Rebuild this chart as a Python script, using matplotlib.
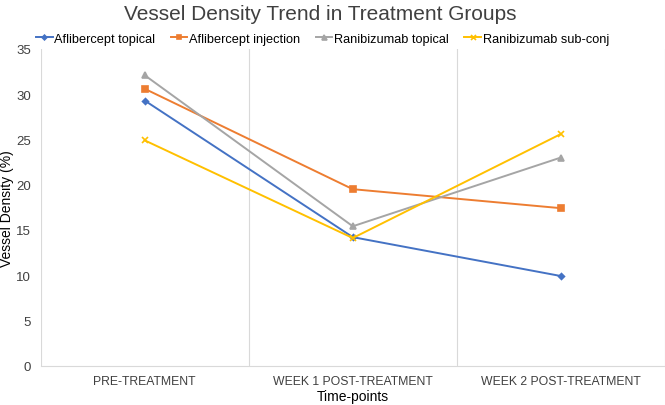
import matplotlib
matplotlib.use("Agg")
from matplotlib import pyplot as plt

plt.rcParams['font.family'] = ['Liberation Sans', 'DejaVu Sans']

timepoints = ["PRE-TREATMENT", "WEEK 1 POST-TREATMENT", "WEEK 2 POST-TREATMENT"]
afl_topical   = [29.3, 14.2, 9.9]
afl_injection = [30.6, 19.5, 17.4]
ran_topical   = [32.1, 15.4, 23.0]
ran_subconj   = [24.9, 14.1, 25.6]

series = [
    ("Aflibercept topical",   afl_topical,   "#4472C4", "D", 3),
    ("Aflibercept injection", afl_injection, "#ED7D31", "s", 4),
    ("Ranibizumab topical",   ran_topical,   "#A5A5A5", "^", 4.5),
    ("Ranibizumab sub-conj",  ran_subconj,   "#FFC000", "x", 4.5),
]

fig = plt.figure(figsize=(6.65, 4.06), dpi=100)
ax = fig.add_axes([0.061, 0.097, 0.939, 0.78])

x = list(range(len(timepoints)))
for name, vals, col, mk, ms in series:
    ax.plot(x, vals, color=col, lw=1.4, marker=mk, markersize=ms,
            markeredgewidth=1.2, label=name)

ax.set_xlim(-0.5, 2.5)
ax.set_ylim(0, 35)
ax.set_yticks(range(0, 36, 5))
ax.set_xticks(x)
ax.set_xticklabels(timepoints, fontsize=8.8, color="#404040")
ax.tick_params(axis='y', labelsize=9.5, colors="#404040", length=0, pad=7)
ax.tick_params(axis='x', length=0, pad=7)

for b in [-0.5, 0.5, 1.5, 2.5]:
    ax.axvline(b, color="#D9D9D9", lw=0.8, zorder=0)
for s in ["top", "right", "left"]:
    ax.spines[s].set_visible(False)
ax.spines["bottom"].set_color("#D9D9D9")

ax.set_xlabel("Time-points", fontsize=10, labelpad=1)
ax.set_ylabel("Vessel Density (%)", fontsize=10)
ax.yaxis.set_label_coords(-0.043, 0.5)

fig.suptitle("Vessel Density Trend in Treatment Groups", fontsize=15,
             color="#404040", x=0.482, y=0.987)
fig.legend(loc="upper center", bbox_to_anchor=(0.485, 0.945), ncol=4,
           frameon=False, fontsize=9.2, handlelength=1.3, handletextpad=0.15,
           columnspacing=1.2, markerscale=0.8)

fig.savefig("out.png", dpi=100)
